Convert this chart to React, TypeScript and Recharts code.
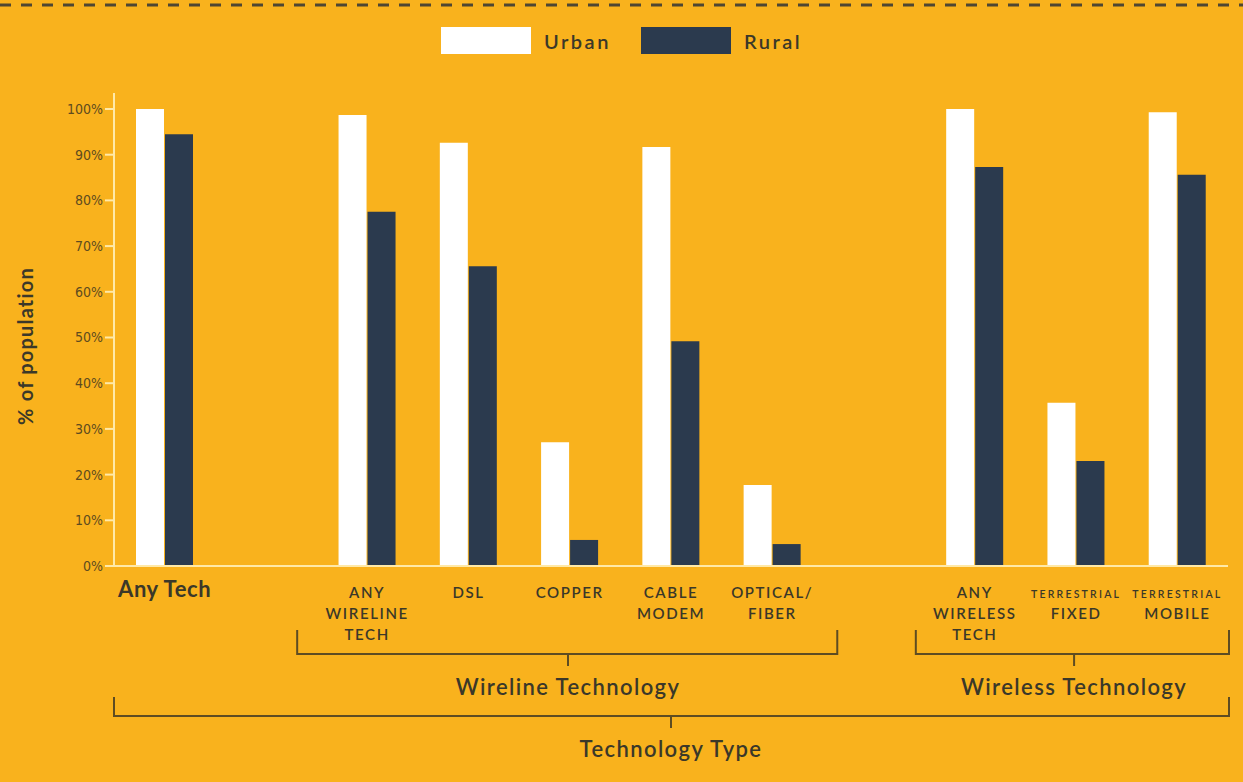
import { BarChart, Bar, XAxis, YAxis } from 'recharts';

const categories = [
  'Any Tech',
  ' ',
  'ANY\nWIRELINE\nTECH',
  'DSL',
  'COPPER',
  'CABLE\nMODEM',
  'OPTICAL/\nFIBER',
  '  ',
  'ANY\nWIRELESS\nTECH',
  'TERRESTRIAL\nFIXED',
  'TERRESTRIAL\nMOBILE',
];
const urban = [100, null, 98.7, 92.6, 27.1, 91.7, 17.7, null, 100, 35.7, 99.3];
const rural = [94.5, null, 77.5, 65.6, 5.7, 49.2, 4.8, null, 87.3, 23, 85.6];
const yTicks = [0, 10, 20, 30, 40, 50, 60, 70, 80, 90, 100];

const W = 1243;
const H = 782;
const LEFT = 114;
const RIGHT = 15;
const TOP = 93;
const BOTTOM = 216;

const BG = '#F9B21D';
const NAVY = '#2B3A4E';
const CREAM = '#FFE9A8';
const INK = '#3B3829';
const BRACKET = '#5E4C22';
const FONT = 'Lato, "Open Sans", sans-serif';

const series = [
  { key: 'Urban', color: '#FFFFFF' },
  { key: 'Rural', color: NAVY },
];

const data = categories.map((name, i) => ({ name, Urban: urban[i], Rural: rural[i] }));

const band = (W - LEFT - RIGHT) / categories.length;
const cx = (i: number) => LEFT + (i + 0.5) * band;

function XTick({ x, y, payload }: any) {
  const value: string = payload.value;
  if (!value.trim()) return null;
  if (value === 'Any Tech') {
    return (
      <text x={x} y={y + 23} textAnchor="middle" fill={INK} fontFamily={FONT} fontSize={22} fontWeight={700} letterSpacing={0.6}>
        {value}
      </text>
    );
  }
  const lines = value.split('\n');
  return (
    <g>
      {lines.map((line, k) => {
        const small = line === 'TERRESTRIAL';
        return (
          <text
            key={k}
            x={x}
            y={y + 24 + k * 21}
            textAnchor="middle"
            fill={INK}
            fontFamily={FONT}
            fontSize={small ? 10.5 : 15}
            fontWeight={600}
            letterSpacing={small ? 2.2 : 1.6}
          >
            {line}
          </text>
        );
      })}
    </g>
  );
}

function Bracket({ x1, x2, y, up, mid, label }: { x1: number; x2: number; y: number; up: number; mid: number; label: string }) {
  return (
    <g>
      <path
        d={`M${x1},${y - up} L${x1},${y} L${x2},${y} L${x2},${y - up} M${mid},${y} L${mid},${y + 12}`}
        stroke={BRACKET}
        strokeWidth={2}
        fill="none"
      />
      <text x={mid} y={y + 41} textAnchor="middle" fill={INK} fontFamily={FONT} fontSize={22} fontWeight={600} letterSpacing={1.4}>
        {label}
      </text>
    </g>
  );
}

export default function App() {
  return (
    <div style={{ position: 'absolute', left: 0, top: 0, width: W, height: H, background: BG }}>
      <BarChart
        width={W}
        height={H}
        data={data}
        margin={{ top: TOP, right: RIGHT, bottom: 0, left: 0 }}
        barSize={28}
        barGap={1}
      >
        <XAxis
          dataKey="name"
          axisLine={{ stroke: CREAM, strokeWidth: 2 }}
          tickLine={false}
          tick={<XTick />}
          interval={0}
          height={BOTTOM}
        />
        <YAxis
          width={LEFT}
          domain={[0, 103.5]}
          ticks={yTicks}
          tickFormatter={(v) => `${v}%`}
          axisLine={{ stroke: CREAM, strokeWidth: 2 }}
          tickLine={{ stroke: CREAM, strokeWidth: 2 }}
          tickSize={9}
          tick={{ fill: '#5E4B1F', fontSize: 14, fontFamily: '"Liberation Sans Narrow", "DejaVu Sans Condensed", sans-serif' }}
        />
        {series.map((s) => (
          <Bar key={s.key} dataKey={s.key} fill={s.color} isAnimationActive={false} />
        ))}
      </BarChart>
      <div
        style={{
          position: 'absolute',
          top: 27,
          left: 0,
          width: W,
          display: 'flex',
          justifyContent: 'center',
          alignItems: 'center',
          fontFamily: FONT,
        }}
      >
        {series.map((s, i) => (
          <div key={s.key} style={{ display: 'flex', alignItems: 'center', marginLeft: i ? 30 : 0 }}>
            <div style={{ width: 90, height: 27, background: s.color }} />
            <span style={{ marginLeft: 13, fontSize: 20, fontWeight: 600, color: INK, letterSpacing: 2.5 }}>{s.key}</span>
          </div>
        ))}
      </div>
      <svg width={W} height={H} style={{ position: 'absolute', left: 0, top: 0, pointerEvents: 'none' }}>
        <line x1={0} y1={5} x2={W} y2={5} stroke="#4F4632" strokeWidth={3} strokeDasharray="11 10" />
        <text
          transform={`translate(33, 346) rotate(-90)`}
          textAnchor="middle"
          fill={INK}
          fontFamily={FONT}
          fontSize={20}
          fontWeight={700}
          letterSpacing={1.2}
        >
          % of population
        </text>
        <Bracket x1={cx(2) - 70} x2={cx(6) + 65} y={654} up={24} mid={568} label="Wireline Technology" />
        <Bracket x1={cx(8) - 59} x2={W - RIGHT + 1} y={654} up={24} mid={cx(9) - 2} label="Wireless Technology" />
        <Bracket x1={LEFT} x2={W - RIGHT + 1} y={716} up={19} mid={671} label="Technology Type" />
      </svg>
    </div>
  );
}
